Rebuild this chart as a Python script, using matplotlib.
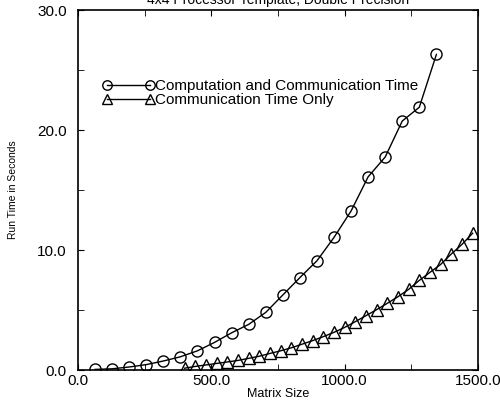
import numpy as np
import matplotlib.pyplot as plt
from matplotlib.ticker import MultipleLocator, FormatStrFormatter

plt.rcParams['font.family'] = ['Liberation Sans', 'DejaVu Sans']

# Data
title = "4x4 Processor Template, Double Precision"
comp_size = [64, 128, 192, 256, 320, 384, 448, 512, 576, 640, 704,
             768, 832, 896, 960, 1024, 1088, 1152, 1216, 1280, 1344]
comp_time = [0.05, 0.1, 0.25, 0.45, 0.75, 1.1, 1.6, 2.3, 3.1, 3.8, 4.8,
             6.25, 7.7, 9.1, 11.05, 13.25, 16.1, 17.75, 20.75, 21.9, 26.3]
comm_size = [400, 440, 480, 520, 560, 600, 640, 680, 720, 760, 800, 840, 880, 920,
             960, 1000, 1040, 1080, 1120, 1160, 1200, 1240, 1280, 1320, 1360, 1400, 1440, 1480]
comm_time = [0.15, 0.3, 0.42, 0.55, 0.67, 0.8, 0.97, 1.15, 1.38, 1.6, 1.85, 2.15, 2.45, 2.78,
             3.14, 3.55, 4.03, 4.53, 5.03, 5.56, 6.11, 6.72, 7.47, 8.14, 8.8, 9.67, 10.47, 11.4]

# Plot setup
fig = plt.figure(figsize=(5, 4.01), dpi=100)
ax = fig.add_axes([0.156, 0.0773, 0.8, 0.8977])

ax.plot(comp_size, comp_time, color="black", lw=1, marker="o", ms=8,
        mfc="none", mec="black", mew=1, label="Computation and Communication Time")
ax.plot(comm_size, comm_time, color="black", lw=1, marker="^", ms=8,
        mfc="none", mec="black", mew=1, label="Communication Time Only")

ax.set_xlim(0, 1500)
ax.set_ylim(0, 30)
ax.xaxis.set_major_locator(MultipleLocator(500))
ax.xaxis.set_minor_locator(MultipleLocator(250))
ax.yaxis.set_major_locator(MultipleLocator(10))
ax.yaxis.set_minor_locator(MultipleLocator(5))
ax.xaxis.set_major_formatter(FormatStrFormatter("%.1f"))
ax.yaxis.set_major_formatter(FormatStrFormatter("%.1f"))
ax.tick_params(which="both", direction="in", top=True, right=True, labelsize=11)
ax.tick_params(which="both", length=4)
ax.tick_params(axis="y", pad=8)
ax.tick_params(axis="x", pad=3)
for s in ax.spines.values():
    s.set_linewidth(1.2)

ax.set_xlabel("Matrix Size", fontsize=9, labelpad=0)
ax.set_ylabel("Run Time in Seconds", fontsize=7.5, labelpad=14)
ax.set_title(title, fontsize=10, pad=4)

ax.legend(loc="upper left", bbox_to_anchor=(0.061, 0.808), frameon=False,
          borderpad=0, borderaxespad=0, markerscale=0.85,
          numpoints=2, handlelength=3.4, handleheight=0.7, fontsize=11,
          labelspacing=0.02, handletextpad=0.05)

fig.savefig("out.png", dpi=100)
